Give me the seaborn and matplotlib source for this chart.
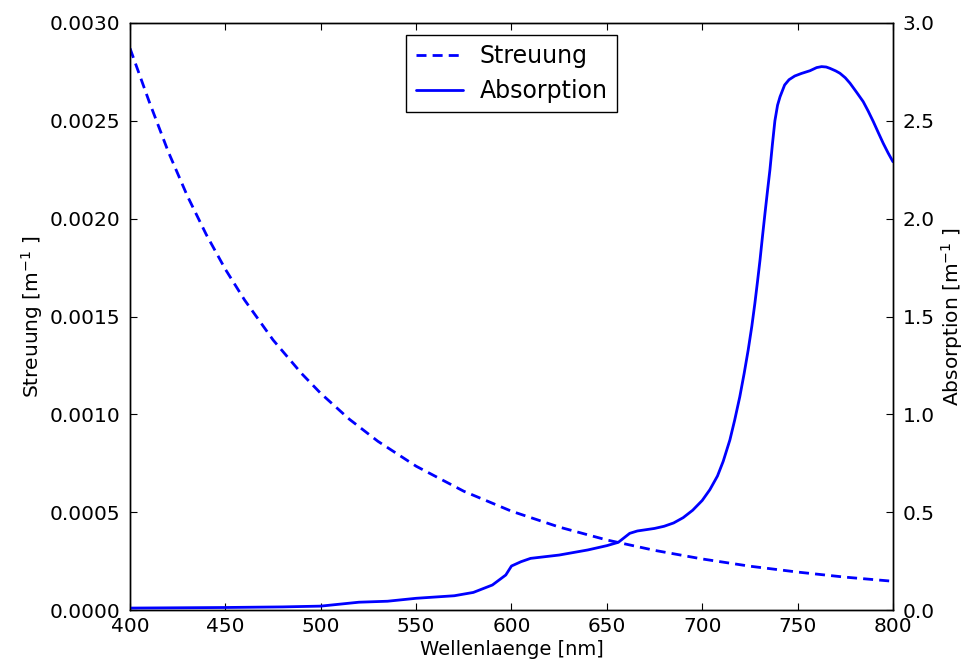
import pandas as pd
import matplotlib
matplotlib.use("Agg")
import matplotlib.pyplot as plt
import seaborn as sns
from matplotlib.ticker import FormatStrFormatter

# Streuung (dashed, left axis)
streu_nm = [400, 410, 420, 430, 440, 450, 460, 475, 490, 500, 515, 530, 550, 575, 600,
            625, 650, 675, 700, 725, 750, 775, 800]
streu_val = [0.00287, 0.002599, 0.002343, 0.002117, 0.001918, 0.001741, 0.001585, 0.00138,
             0.001208, 0.001107, 0.000975, 0.000862, 0.000735, 0.000607, 0.000505, 0.000424,
             0.000358, 0.000305, 0.000261, 0.000224, 0.000194, 0.000168, 0.000147]

# Absorption (solid, right axis)
abs_nm = [400, 450, 480, 500, 520, 535, 550, 570, 580, 590, 597, 600, 605, 610, 625, 640, 650,
          656, 662, 666, 675, 680, 685, 690, 695, 700, 704, 708, 711, 714.5, 717, 719.7, 722,
          724.1, 726, 727.6, 729, 730.3, 731.6, 732.9, 734.2, 735.5, 736.8, 738.1, 739.5,
          740.8, 743.2, 745.5, 748.5, 752, 756.5, 760, 762.6, 765, 767, 770, 772.2, 775,
          777.5, 781, 784.4, 787, 789.7, 792.3, 794.9, 797.5, 800]
abs_val = [0.01, 0.013, 0.016, 0.02, 0.04, 0.045, 0.06, 0.073, 0.09, 0.128, 0.179, 0.225, 0.247,
           0.264, 0.281, 0.307, 0.329, 0.346, 0.392, 0.404, 0.417, 0.428, 0.445, 0.472, 0.51,
           0.56, 0.615, 0.685, 0.76, 0.869, 0.97, 1.09, 1.21, 1.329, 1.45, 1.567, 1.68, 1.789,
           1.91, 2.027, 2.14, 2.25, 2.38, 2.5, 2.58, 2.623, 2.683, 2.71, 2.729, 2.742, 2.756,
           2.772, 2.777, 2.775, 2.768, 2.755, 2.743, 2.72, 2.692, 2.645, 2.598, 2.55, 2.496,
           2.44, 2.385, 2.335, 2.291]

df_s = pd.DataFrame({"nm": streu_nm, "val": streu_val})
df_a = pd.DataFrame({"nm": abs_nm, "val": abs_val})

sns.set_style("white")
plt.rcParams["font.family"] = ["DejaVu Sans"]
plt.rcParams.update({
    "xtick.direction": "in", "ytick.direction": "in",
    "xtick.top": True, "xtick.bottom": True,
    "axes.edgecolor": "black", "axes.linewidth": 1.0,
    "text.color": "black", "axes.labelcolor": "black",
    "xtick.color": "black", "ytick.color": "black",
})

fig, ax = plt.subplots(figsize=(9.64, 6.62), dpi=100)
fig.subplots_adjust(left=0.1349, right=0.9263, top=0.9653, bottom=0.0785)
ax2 = ax.twinx()

sns.lineplot(data=df_s, x="nm", y="val", ax=ax, color="blue", lw=2,
             linestyle=(0, (3.6, 2.2)), label="Streuung", legend=False)
sns.lineplot(data=df_a, x="nm", y="val", ax=ax2, color="blue", lw=2,
             label="Absorption", legend=False)

ax.set_xlim(400, 800)
ax.set_ylim(0, 0.003)
ax2.set_ylim(0, 3.0)
ax.set_yticks([0, 0.0005, 0.001, 0.0015, 0.002, 0.0025, 0.003])
ax.yaxis.set_major_formatter(FormatStrFormatter("%.4f"))
ax2.set_yticks([0, 0.5, 1.0, 1.5, 2.0, 2.5, 3.0])
ax2.yaxis.set_major_formatter(FormatStrFormatter("%.1f"))
for a in (ax, ax2):
    a.tick_params(axis="both", direction="in", length=5, labelsize=14.5, colors="black")
ax.tick_params(axis="y", left=True, right=False, pad=7)
ax.tick_params(axis="x", pad=5)
ax2.tick_params(axis="y", right=True, left=False, pad=7)

ax.set_xlabel("Wellenlaenge [nm]", fontsize=14, labelpad=3)
ax.set_ylabel("Streuung [m$^{-1}$ ]", fontsize=14.5, labelpad=3)
ax2.set_ylabel("Absorption [m$^{-1}$ ]", fontsize=14.5, labelpad=3)

h1, l1 = ax.get_legend_handles_labels()
h2, l2 = ax2.get_legend_handles_labels()
leg = ax2.legend(h1 + h2, l1 + l2, loc="upper center", bbox_to_anchor=(0.5, 0.98),
                 borderaxespad=0, fontsize=17, fancybox=False, framealpha=1,
                 edgecolor="black", handlelength=2.0, handletextpad=0.7,
                 labelspacing=0.45, borderpad=0.4)
leg.get_frame().set_linewidth(1.0)

fig.savefig("out.png", dpi=100)
